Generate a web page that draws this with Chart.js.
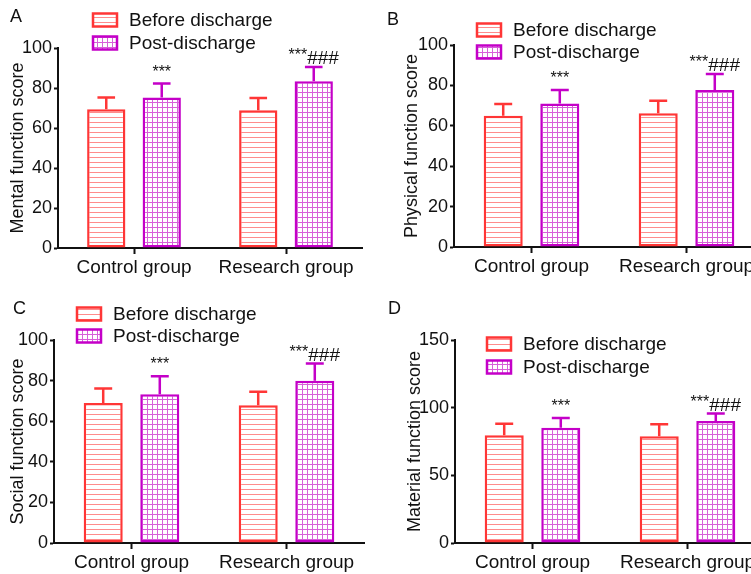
<!DOCTYPE html>
<html>
<head>
  <title>Function scores</title>
  <script src="https://cdn.jsdelivr.net/npm/chart.js@4/dist/chart.umd.min.js"></script>
  <style>
    body { margin: 0; background: #fff; }
    .panel { position: absolute; overflow: hidden; }
    canvas { position: absolute; left: 0; top: 0; }
  </style>
</head>
<body>
  <div class="panel" style="left:0;top:0;width:375px;height:287px;"><canvas id="chartA" width="375" height="287"></canvas></div>
  <div class="panel" style="left:375px;top:0;width:376px;height:287px;"><canvas id="chartB" width="400" height="287"></canvas></div>
  <div class="panel" style="left:0;top:287px;width:375px;height:287px;"><canvas id="chartC" width="375" height="287"></canvas></div>
  <div class="panel" style="left:375px;top:287px;width:376px;height:287px;"><canvas id="chartD" width="400" height="287"></canvas></div>
  <script>
    // data
    var groups = ['Control group', 'Research group'];
    var seriesNames = ['Before discharge', 'Post-discharge'];
    var postMarks = ['***', '***###'];

    var mentalBefore = [69.4, 68.9];
    var mentalBeforeErr = [5.8, 6.1];
    var mentalPost = [75.2, 83.4];
    var mentalPostErr = [7.0, 7.1];

    var physicalBefore = [65.0, 66.2];
    var physicalBeforeErr = [5.8, 6.2];
    var physicalPost = [71.1, 77.7];
    var physicalPostErr = [6.6, 7.9];

    var socialBefore = [69.0, 67.9];
    var socialBeforeErr = [7.1, 6.6];
    var socialPost = [73.3, 79.9];
    var socialPostErr = [8.9, 8.5];

    var materialBefore = [79.6, 78.9];
    var materialBeforeErr = [8.6, 8.9];
    var materialPost = [85.2, 90.2];
    var materialPostErr = [7.2, 5.4];

    var RED = '#ff3636';
    var MAG = '#c400c8';
    var FONT = '"Liberation Sans", Arial, sans-serif';

    function linePattern() {
      var c = document.createElement('canvas');
      c.width = 5; c.height = 5;
      var x = c.getContext('2d');
      x.fillStyle = '#fff'; x.fillRect(0, 0, 5, 5);
      x.fillStyle = '#ff8c8c'; x.fillRect(0, 2, 5, 1);
      return x.createPattern(c, 'repeat');
    }
    function gridPattern() {
      var c = document.createElement('canvas');
      c.width = 5; c.height = 5;
      var x = c.getContext('2d');
      x.fillStyle = '#fff'; x.fillRect(0, 0, 5, 5);
      x.fillStyle = '#d760d9';
      x.fillRect(0, 2, 5, 1);
      x.fillRect(2, 0, 1, 5);
      return x.createPattern(c, 'repeat');
    }
    var beforeFill = linePattern();
    var postFill = gridPattern();

    var extras = {
      id: 'extras',
      afterDatasetsDraw: function(chart) {
        var ctx = chart.ctx, y = chart.scales.y;
        chart.data.datasets.forEach(function(ds, i) {
          var meta = chart.getDatasetMeta(i);
          meta.data.forEach(function(bar, j) {
            var top = y.getPixelForValue(ds.data[j] + ds.errors[j]);
            var cap = bar.width * 0.46;
            ctx.save();
            ctx.strokeStyle = ds.borderColor;
            ctx.lineWidth = 2.5;
            ctx.beginPath();
            ctx.moveTo(bar.x, bar.y);
            ctx.lineTo(bar.x, top);
            ctx.moveTo(bar.x - cap / 2, top);
            ctx.lineTo(bar.x + cap / 2, top);
            ctx.stroke();
            var mark = ds.marks ? ds.marks[j] : '';
            if (mark) {
              var stars = mark.replace(/#/g, ''), hashes = mark.replace(/\*/g, '');
              ctx.fillStyle = '#111';
              ctx.textBaseline = 'alphabetic';
              ctx.textAlign = 'left';
              ctx.font = '16px ' + FONT;
              var w1 = ctx.measureText(stars).width;
              ctx.font = '19px ' + FONT;
              var w2 = ctx.measureText(hashes).width;
              var x0 = bar.x - (w1 + w2) / 2;
              ctx.font = '16px ' + FONT;
              ctx.fillText(stars, x0, top - 7);
              ctx.font = '19px ' + FONT;
              ctx.fillText(hashes, x0 + w1, top - 3);
            }
            ctx.restore();
          });
        });
      },
      afterDraw: function(chart) {
        var ctx = chart.ctx, o = chart.options.plugins.extras;
        ctx.save();
        ctx.fillStyle = '#111';
        ctx.font = '18px ' + FONT;
        ctx.textBaseline = 'alphabetic';
        ctx.textAlign = 'left';
        ctx.fillText(o.letter, o.letterX, o.letterY);
        ctx.font = '19px ' + FONT;
        ctx.textBaseline = 'middle';
        chart.data.datasets.forEach(function(ds, i) {
          var cy = o.legendRows[i];
          ctx.fillStyle = ds.backgroundColor;
          ctx.fillRect(o.legendX, cy - 6.5, 24, 13);
          ctx.strokeStyle = ds.borderColor;
          ctx.lineWidth = 2.5;
          ctx.strokeRect(o.legendX, cy - 6.5, 24, 13);
          ctx.fillStyle = '#111';
          ctx.fillText(ds.label, o.legendX + 36, cy + 1);
        });
        ctx.restore();
      }
    };

    function makeChart(id, p) {
      new Chart(document.getElementById(id), {
        type: 'bar',
        data: {
          labels: groups,
          datasets: [{
            label: seriesNames[0],
            data: p.before,
            errors: p.beforeErr,
            backgroundColor: beforeFill,
            borderColor: RED,
            borderWidth: 2.5,
            borderSkipped: false
          }, {
            label: seriesNames[1],
            data: p.post,
            errors: p.postErr,
            marks: postMarks,
            backgroundColor: postFill,
            borderColor: MAG,
            borderWidth: 2.5,
            borderSkipped: false
          }]
        },
        options: {
          responsive: false,
          animation: false,
          categoryPercentage: 0.73,
          barPercentage: 0.69,
          layout: { padding: { left: 0, top: p.top, right: p.right, bottom: 0 } },
          plugins: {
            legend: { display: false },
            tooltip: { enabled: false },
            extras: p.extras
          },
          scales: {
            x: {
              afterFit: function(s) { s.height = p.xHeight; },
              grid: { drawOnChartArea: false, offset: false, tickLength: 6, tickColor: '#111', tickWidth: 2 },
              border: { color: '#111', width: 2 },
              ticks: { color: '#111', padding: 2, font: { family: FONT, size: 19 } }
            },
            y: {
              min: 0,
              max: p.yMax,
              afterFit: function(s) { s.width = p.yWidth; },
              grid: { drawOnChartArea: false, tickLength: 4, tickColor: '#111', tickWidth: 2 },
              border: { color: '#111', width: 2 },
              ticks: { stepSize: p.yStep, color: '#111', padding: 2, font: { family: FONT, size: 18 } },
              title: { display: true, text: p.yTitle, color: '#111', padding: { top: p.titlePad, bottom: 0 }, font: { family: FONT, size: 18 } }
            }
          }
        },
        plugins: [extras]
      });
    }

    makeChart('chartA', {
      before: mentalBefore, beforeErr: mentalBeforeErr, post: mentalPost, postErr: mentalPostErr,
      yTitle: 'Mental function score', yMax: 100, yStep: 20,
      yWidth: 58, top: 48, right: 13, xHeight: 39, titlePad: 7,
      extras: { letter: 'A', letterX: 10, letterY: 22, legendX: 93, legendRows: [20, 43] }
    });
    makeChart('chartB', {
      before: physicalBefore, beforeErr: physicalBeforeErr, post: physicalPost, postErr: physicalPostErr,
      yTitle: 'Physical function score', yMax: 100, yStep: 20,
      yWidth: 79, top: 45, right: 11, xHeight: 40, titlePad: 26,
      extras: { letter: 'B', letterX: 12, letterY: 25, legendX: 102, legendRows: [30, 52] }
    });
    makeChart('chartC', {
      before: socialBefore, beforeErr: socialBeforeErr, post: socialPost, postErr: socialPostErr,
      yTitle: 'Social function score', yMax: 100, yStep: 20,
      yWidth: 54, top: 53, right: 11, xHeight: 31, titlePad: 7,
      extras: { letter: 'C', letterX: 13, letterY: 27, legendX: 77, legendRows: [27, 49] }
    });
    makeChart('chartD', {
      before: materialBefore, beforeErr: materialBeforeErr, post: materialPost, postErr: materialPostErr,
      yTitle: 'Material function score', yMax: 150, yStep: 50,
      yWidth: 80, top: 53, right: 10, xHeight: 31, titlePad: 29,
      extras: { letter: 'D', letterX: 13, letterY: 27, legendX: 112, legendRows: [57, 80] }
    });
  </script>
</body>
</html>
